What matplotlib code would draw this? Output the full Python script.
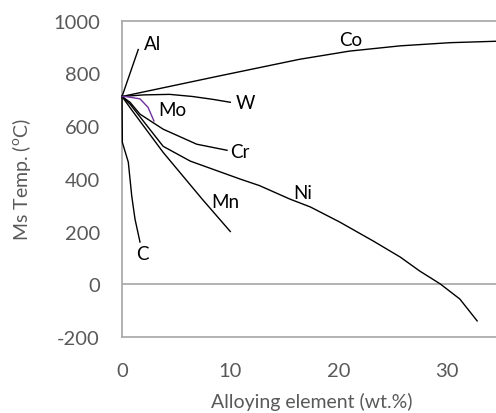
import matplotlib

matplotlib.use("Agg")
import matplotlib.pyplot as plt

plt.rcParams["font.family"] = ["Lato", "DejaVu Sans"]
plt.rcParams["mathtext.fontset"] = "custom"
plt.rcParams["mathtext.rm"] = "Lato"
plt.rcParams["axes.unicode_minus"] = False

GRAY = "#595959"
AXIS_GRAY = "#a6a6a6"

# Ms temperature vs. alloying content
al_x = [0, 1.5]
al_y = [712, 890]
co_x = [0, 9, 16.4, 21, 25.7, 30.3, 35]
co_y = [712, 790, 853, 884, 904, 916, 922]
w_x = [0, 2, 4.4, 6.5, 8.4, 10]
w_y = [712, 718, 720, 712, 701, 690]
mo_x = [0, 0.3, 1.66, 2.4, 2.95]
mo_y = [712, 712, 703, 671, 619]
cr_x = [0, 0.74, 1.66, 3.8, 6.9, 9.7]
cr_y = [712, 690, 645, 588, 531, 508]
mn_x = [0, 1, 3.8, 7.4, 10]
mn_y = [712, 655, 500, 323, 200]
ni_x = [0, 0.74, 3.8, 6.3, 10.9, 12.7, 15.5, 17.4, 20.1, 23.2, 25.7, 27.5, 29.4, 31.2, 32.8]
ni_y = [712, 683, 523, 467, 399, 374, 323, 293, 236, 164, 103, 50, 1, -56, -139]
c_x = [0, 0.03, 0.58, 0.9, 1.2, 1.66]
c_y = [712, 538, 463, 334, 247, 160]

labels = ["Al", "Co", "W", "Mo", "Cr", "Mn", "Ni", "C"]
label_x = [2.8, 21.1, 11.4, 4.6, 10.9, 9.5, 16.7, 1.85]
label_y = [911, 929, 690, 663, 504, 315, 349, 115]

fig = plt.figure(figsize=(4.96, 4.14), dpi=100)
ax = fig.add_axes([0.246, 0.1836, 0.764, 0.7644])

for xs, ys in [(al_x, al_y), (co_x, co_y), (w_x, w_y), (cr_x, cr_y),
               (mn_x, mn_y), (ni_x, ni_y), (c_x, c_y)]:
    ax.plot(xs, ys, color="black", lw=1.0, zorder=3, clip_on=False)
ax.plot(mo_x, mo_y, color="#7030a0", lw=1.0, zorder=3, clip_on=False)

ax.axhline(0, color=AXIS_GRAY, lw=1.2, zorder=0)

for name, lx, ly in zip(labels, label_x, label_y):
    ax.text(lx, ly, name, ha="center", va="center", fontsize=13.5, color="black")

ax.set_xlim(0, 35)
ax.set_ylim(-200, 1000)
ax.set_xticks([0, 10, 20, 30])
ax.set_yticks(range(-200, 1001, 200))
ax.tick_params(length=0, labelsize=14.5, colors=GRAY)
ax.tick_params(axis="x", pad=18)
ax.tick_params(axis="y", pad=16)
for s in ax.spines.values():
    s.set_color(AXIS_GRAY)
    s.set_linewidth(1.2)

ax.set_xlabel("Alloying element (wt.%)", fontsize=14, color=GRAY, labelpad=9)
ax.set_ylabel(r"Ms Temp. ($^{\mathrm{o}}$C)", fontsize=14, color=GRAY, labelpad=14)

fig.savefig("out.png", dpi=100)
